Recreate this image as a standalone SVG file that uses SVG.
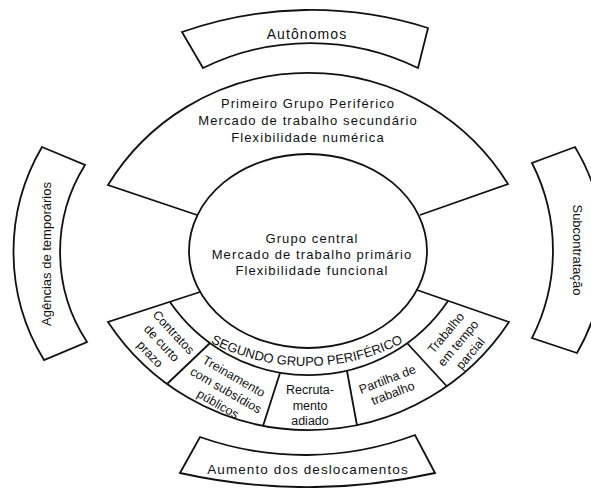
<svg xmlns="http://www.w3.org/2000/svg" width="591" height="488" viewBox="0 0 591 488">
<style>
.s{fill:none;stroke:#111;stroke-width:1.8;stroke-linejoin:miter}
.t{font-family:"Liberation Sans",Arial,sans-serif;fill:#111}
.m{font-size:13px;letter-spacing:1.1px;text-anchor:middle}
.b{font-size:13px;text-anchor:middle}
.c{font-size:12.5px;text-anchor:middle}
</style>
<defs>
<path id="arcText" d="M157 303 A210 210 0 0 0 457 303" fill="none"/>
</defs>
<rect width="591" height="488" fill="#fff"/>
<g id="autonomos">
<path class="s" d="M182 32 A388 388 0 0 1 428 28 L418 68 A244 244 0 0 0 203 68 Z"/>
<text class="t m" x="307" y="39" style="font-size:14px">Autônomos</text>
</g>
<g id="agencias">
<path class="s" d="M42 147 L85 165 A164 164 0 0 0 87 342 L44 360 A207 207 0 0 1 42 147 Z"/>
<text class="t b" transform="translate(51 254) rotate(-90)">Agências de temporários</text>
</g>
<g id="subcontratacao">
<path class="s" d="M532 163 A193 193 0 0 1 532 338 L577 353 A203 203 0 0 0 575 147 Z"/>
<text class="t b" transform="translate(572.5 250) rotate(90)">Subcontratação</text>
</g>
<g id="aumento">
<path class="s" d="M200 437 A314 314 0 0 0 415 435 L435 473 A588 588 0 0 1 180 473 Z"/>
<text class="t m" x="308" y="474" style="font-size:13.5px">Aumento dos deslocamentos</text>
</g>
<g id="primeiro">
<path class="s" d="M197 215 L108 185 A235 235 0 0 1 508 184 L420 215"/>
<text class="t m" x="308" y="108">Primeiro Grupo Periférico</text>
<text class="t m" x="308" y="125">Mercado de trabalho secundário</text>
<text class="t m" x="308" y="141.5">Flexibilidade numérica</text>
</g>
<g id="central">
<ellipse class="s" cx="308" cy="251" rx="119" ry="97"/>
<text class="t m" x="312" y="243">Grupo central</text>
<text class="t m" x="312" y="259">Mercado de trabalho primário</text>
<text class="t m" x="312" y="275">Flexibilidade funcional</text>
</g>
<g id="segundo">
<path class="s" d="M200 292 L108 322 A240 240 0 0 0 509 322 L417 290"/>
<path class="s" d="M170 302 A168 168 0 0 0 448 301"/>
<text class="t" style="font-size:13px"><textPath href="#arcText" startOffset="50%" text-anchor="middle">SEGUNDO GRUPO PERIFÉRICO</textPath></text>
</g>
<g id="contratos">
<path class="s" d="M167 384 L210 343"/>
<text class="t c" transform="translate(162 343) rotate(47)"><tspan x="0" y="-11.5">Contratos</tspan><tspan x="0" y="4.5">de curto</tspan><tspan x="0" y="20.5">prazo</tspan></text>
</g>
<g id="treinamento">
<path class="s" d="M280 373 L263 426"/>
<text class="t c" transform="translate(226 390) rotate(30)"><tspan x="0" y="-11.5">Treinamento</tspan><tspan x="0" y="4.5">com subsídios</tspan><tspan x="0" y="20.5">públicos</tspan></text>
</g>
<g id="recrutamento">
<path class="s" d="M347 371 L357 425.5"/>
<text class="t c"><tspan x="310" y="394">Recruta-</tspan><tspan x="310" y="410">mento</tspan><tspan x="310" y="425">adiado</tspan></text>
</g>
<g id="partilha">
<path class="s" d="M407 343 L447 386.5"/>
<text class="t c" transform="translate(390 386) rotate(-21)"><tspan x="0" y="-3">Partilha de</tspan><tspan x="0" y="12">trabalho</tspan></text>
</g>
<g id="trabalho">
<text class="t c" transform="translate(458 343) rotate(-50)"><tspan x="0" y="-11.5">Trabalho</tspan><tspan x="0" y="4.5">em tempo</tspan><tspan x="0" y="20.5">parcial</tspan></text>
</g>
</svg>
